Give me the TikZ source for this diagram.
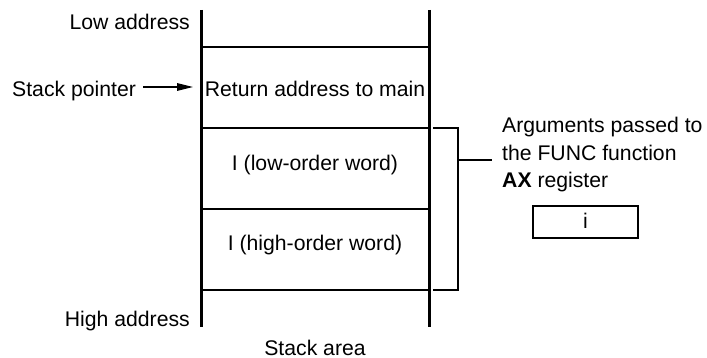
\documentclass[tikz,border=0pt]{standalone}
\usepackage{fontspec}
\setmainfont{Liberation Sans}
\usetikzlibrary{arrows.meta}
\begin{document}
\begin{tikzpicture}[x=1pt,y=-1pt,
  lbl/.style={inner sep=0pt,font=\fontsize{21.2}{27}\selectfont},
  wall/.style={line width=3pt},
  sep/.style={line width=2pt},
  brk/.style={line width=1.8pt},
  ptr/.style={line width=1.4pt,-{Triangle[length=16pt,width=7.5pt]}}]
\useasboundingbox (0,0) rectangle (707,358);
% walls
\coordinate (lt) at (201,10); \coordinate (lb) at (201,327);
\coordinate (rt) at (429,10); \coordinate (rb) at (429,327);
\draw[wall] (lt) -- (lb);
\draw[wall] (rt) -- (rb);
% separators
\foreach \y/\n in {47/a,128/b,209/c,290/d}{
  \coordinate (s\n l) at (201,\y); \coordinate (s\n r) at (429,\y);
  \draw[sep] (s\n l) -- (s\n r);
}
% cell texts
\node[lbl,anchor=base] (ret) at (315,97) {Return address to main};
\node[lbl,anchor=base] (low) at (315,171) {I (low-order word)};
\node[lbl,anchor=base] (high) at (315,251) {I (high-order word)};
% side labels
\node[lbl,anchor=base east] (la) at (190,30) {Low address};
\node[lbl,anchor=base east] (ha) at (190,326) {High address};
\node[lbl,anchor=base] (sa) at (315,355) {Stack area};
\node[lbl,anchor=base west] (sp) at (12,97) {Stack pointer};
\coordinate (spa) at (143,87); \coordinate (spb) at (193,87);
\draw[ptr] (spa) -- (spb);
% bracket
\coordinate (b1) at (433,128); \coordinate (b2) at (458,128);
\coordinate (b3) at (458,290); \coordinate (b4) at (433,290);
\coordinate (bm) at (458,160); \coordinate (be) at (492,160);
\draw[brk] (b1) -- (b2) -- (b3) -- (b4);
\draw[brk] (bm) -- (be);
% right texts
\node[lbl,anchor=base west] (t1) at (502,133) {Arguments passed to};
\node[lbl,anchor=base west] (t2) at (502,160.5) {the FUNC function};
\node[lbl,anchor=base west] (t3) at (502,188) {\textbf{AX} register};
\node[draw,line width=1.8pt,minimum width=105pt,minimum height=32pt,inner sep=0pt] (ibox) at (585.5,222) {};
\node[lbl,anchor=base] (itxt) at (585.5,229) {i};
\end{tikzpicture}
\end{document}
